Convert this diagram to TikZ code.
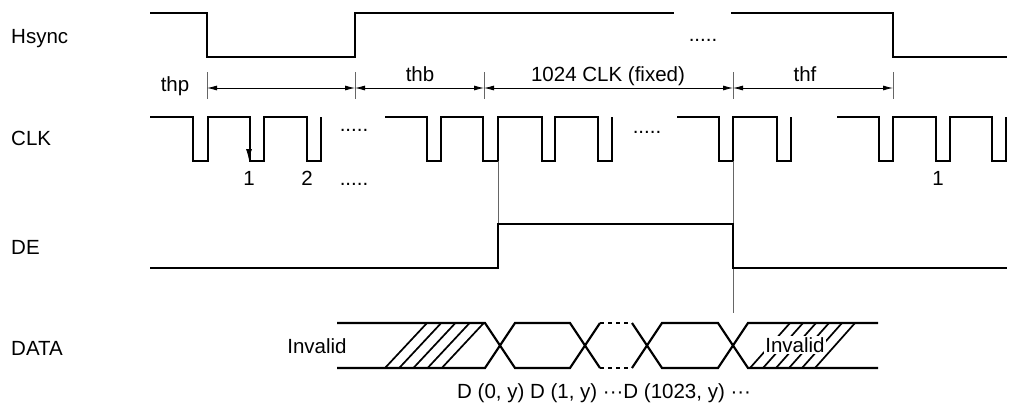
\documentclass[tikz,border=0pt]{standalone}
\usepackage{fontspec}
\setmainfont{Liberation Sans}
\usetikzlibrary{arrows.meta}
\begin{document}
\begin{tikzpicture}[x=1pt,y=-1pt,
  sig/.style={line width=2.2pt, line join=miter},
  hatch/.style={line width=1.7pt},
  thinln/.style={line width=0.8pt, black!60},
  dimln/.style={line width=0.8pt, {Latex[length=10pt,width=5pt]}-{Latex[length=10pt,width=5pt]}},
  lbl/.style={inner sep=0pt, font=\fontsize{20.5}{24}\selectfont},
  ]
\useasboundingbox (0,0) rectangle (1010,410);
% signal names
\node[lbl, anchor=base west] (nh) at (11,43) {Hsync};
\node[lbl, anchor=base west] (nc) at (11,145.5) {CLK};
\node[lbl, anchor=base west] (nd) at (11,254) {DE};
\node[lbl, anchor=base west] (nda) at (11,355) {DATA};
% Hsync
\draw[sig] (150,13) -- (207,13) -- (207,57) -- (355,57) -- (355,13) -- (674,13);
\draw[sig] (731,13) -- (893,13) -- (893,57) -- (1007,57);
\node[lbl, anchor=base] (hdots) at (703,41) {.....};
% ticks and dimension lines
\foreach \x/\n in {207/a,355/b,484/c,733/d,893/e}
  \draw[thinln] (\x,72) coordinate (t\n) -- (\x,99);
\coordinate (da) at (207,88);
\coordinate (db) at (355,88);
\coordinate (dc) at (484,88);
\coordinate (dd) at (733,88);
\coordinate (de) at (893,88);
\draw[dimln] (da) -- (db);
\draw[dimln] (db) -- (dc);
\draw[dimln] (dc) -- (dd);
\draw[dimln] (dd) -- (de);
\node[lbl, anchor=base] (thp) at (175,91) {thp};
\node[lbl, anchor=base] (thb) at (420,81) {thb};
\node[lbl, anchor=base] (clkfix) at (608,81) {1024 CLK (fixed)};
\node[lbl, anchor=base] (thf) at (805,81) {thf};
% CLK
\draw[sig] (150,117) -- (193,117) -- (193,161) -- (208,161) -- (208,117) -- (250,117) -- (250,161) -- (264,161) -- (264,117) -- (307,117) -- (307,161) -- (321,161) -- (321,117);
\draw[sig] (385,117) -- (427,117) -- (427,161) -- (441,161) -- (441,117) -- (483,117) -- (483,161) -- (498,161) -- (498,117) -- (542,117) -- (542,161) -- (555,161) -- (555,117) -- (598,117) -- (598,161) -- (612,161) -- (612,117);
\draw[sig] (677,117) -- (719,117) -- (719,161) -- (733,161) -- (733,117) -- (777,117) -- (777,161) -- (791,161) -- (791,117);
\draw[sig] (837,117) -- (879,117) -- (879,161) -- (893,161) -- (893,117) -- (936,117) -- (936,161) -- (950,161) -- (950,117) -- (992,117) -- (992,161) -- (1006,161) -- (1006,117);
\coordinate (arA) at (249,117);
\coordinate (arB) at (249,160);
\draw[line width=0.8pt, -{Latex[length=11pt,width=6pt]}] (arA) -- (arB);
\node[lbl, anchor=base] (c1) at (249,185) {1};
\node[lbl, anchor=base] (c2) at (307,185) {2};
\node[lbl, anchor=base] (cdots1) at (354,131) {.....};
\node[lbl, anchor=base] (cdots2) at (354,185) {.....};
\node[lbl, anchor=base] (cdots3) at (647,133) {.....};
\node[lbl, anchor=base] (c1b) at (938,185) {1};
% guide lines
\draw[thinln] (498,161) -- (498,224);
\draw[thinln] (733,161) -- (733,313);
% DE
\draw[sig] (150,268) -- (498,268) -- (498,224) -- (733,224) -- (733,268) -- (1007,268);
% DATA
\def\yt{323}\def\yb{368}
\foreach \k in {0,...,4}
  \draw[hatch] ({385+14.2*\k},\yb) -- ({427+14.2*\k},\yt);
\foreach \k in {0,...,5}
  \draw[hatch] ({750+13*\k},\yb) -- ({790+13*\k},\yt);
\node[lbl, anchor=base, fill=white, inner sep=1.5pt] (inv2) at (795,352) {Invalid};
\node[lbl, anchor=base] (inv1) at (317,353) {Invalid};
\draw[sig] (337,\yt) -- (485,\yt) -- (515,\yb) -- (570,\yb) -- (600,\yt);
\draw[sig] (337,\yb) -- (485,\yb) -- (515,\yt) -- (570,\yt) -- (600,\yb);
\draw[sig, dash pattern=on 4pt off 4pt] (600,\yt) -- (632,\yt);
\draw[sig, dash pattern=on 4pt off 4pt] (600,\yb) -- (632,\yb);
\draw[sig] (632,\yt) -- (662,\yb) -- (718,\yb) -- (748,\yt) -- (878,\yt);
\draw[sig] (632,\yb) -- (662,\yt) -- (718,\yt) -- (748,\yb) -- (878,\yb);
\node[lbl, anchor=base west] (dlab) at (457,398) {D (0, y) D (1, y) ·{}·{}·D (1023, y) ·{}·{}·};
\end{tikzpicture}
\end{document}
